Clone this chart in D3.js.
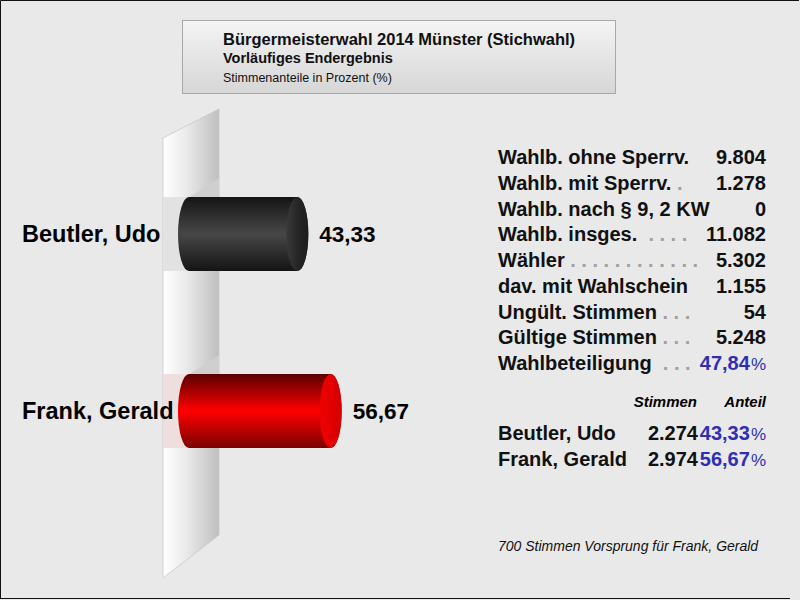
<!DOCTYPE html>
<html>
<head>
<meta charset="utf-8">
<script src="https://cdn.jsdelivr.net/npm/d3@7"></script>
<style>
  body { margin: 0; background: #e9e9e9; }
  text { font-family: "Liberation Sans", Arial, sans-serif; }
</style>
</head>
<body>
<div id="chart"></div>
<script>
// data
const candidates = ["Beutler, Udo", "Frank, Gerald"];
const shares = [43.33, 56.67];
const votes = ["2.274", "2.974"];
const shareLabels = ["43,33", "56,67"];

const statLabels = ["Wahlb. ohne Sperrv.", "Wahlb. mit Sperrv.", "Wahlb. nach § 9, 2 KW", "Wahlb. insges.",
  "Wähler", "dav. mit Wahlschein", "Ungült. Stimmen", "Gültige Stimmen", "Wahlbeteiligung"];
const statDots = ["", " .", "", "  . . . .", " . . . . . . . . . . . .", "", " . . .", " . . .", "  . . ."];
const statValues = ["9.804", "1.278", "0", "11.082", "5.302", "1.155", "54", "5.248", "47,84"];

const titleLines = ["Bürgermeisterwahl 2014 Münster (Stichwahl)", "Vorläufiges Endergebnis", "Stimmenanteile in Prozent (%)"];
const footer = "700 Stimmen Vorsprung für Frank, Gerald";

const width = 800, height = 600;
const blue = "#2f2fb5";

const svg = d3.select("#chart").append("svg")
  .attr("width", width).attr("height", height);

const defs = svg.append("defs");

function linGrad(id, x2, y2, stops) {
  const g = defs.append("linearGradient").attr("id", id)
    .attr("x1", 0).attr("y1", 0).attr("x2", x2).attr("y2", y2);
  stops.forEach(s => g.append("stop").attr("offset", s[0]).attr("stop-color", s[1]));
}
linGrad("titleGrad", 0, 1, [[0, "#f4f4f4"], [1, "#d6d6d6"]]);
linGrad("wallGrad", 1, 0, [[0, "#ffffff"], [0.4, "#ebebeb"], [1, "#bfbfbf"]]);
linGrad("cyl0", 0, 1, [[0, "#151515"], [0.5, "#474747"], [1, "#141414"]]);
linGrad("cyl1", 0, 1, [[0, "#5a0000"], [0.5, "#ff0000"], [1, "#7a0000"]]);
linGrad("cap0", 1, 0, [[0, "#3a3a3a"], [0.5, "#262626"], [1, "#1c1c1c"]]);
linGrad("cap1", 1, 0, [[0, "#f00000"], [0.5, "#e40000"], [1, "#d00000"]]);

svg.append("rect").attr("width", width).attr("height", height).attr("fill", "#e9e9e9");

// title box
svg.append("rect")
  .attr("x", 182.5).attr("y", 20.5).attr("width", 433).attr("height", 73)
  .attr("fill", "url(#titleGrad)").attr("stroke", "#a8a8a8");
const titleSizes = [16.5, 14.5, 12.5];
const titleY = [45, 63, 82];
svg.selectAll("text.title").data(titleLines).enter().append("text")
  .attr("class", "title")
  .attr("x", 223).attr("y", (d, i) => titleY[i])
  .attr("font-size", (d, i) => titleSizes[i])
  .attr("font-weight", (d, i) => i < 2 ? "bold" : "normal")
  .attr("fill", "#111")
  .text(d => d);

// scales
const xScale = d3.scaleLinear().domain([0, 100]).range([189, 439]);
const yScale = d3.scalePoint().domain(candidates).range([234, 411]);
const barH = 74, rx = 11;

// wall
svg.append("path")
  .attr("d", "M163,138 L219,109 L219,535 L163,578 Z")
  .attr("fill", "url(#wallGrad)").attr("stroke", "#c8c8c8").attr("stroke-width", 0.8);

// bands behind bars
const bandColor = ["#e2e2e2", "#efdede"];
candidates.forEach((c, i) => {
  const yc = yScale(c);
  svg.append("path")
    .attr("d", `M190,${yc - barH / 2} L219,${yc - barH / 2 - 19} L219,${yc - barH / 2} Z`)
    .attr("fill", "#cfcfcf");
  svg.append("rect")
    .attr("x", 163).attr("y", yc - barH / 2).attr("width", 56).attr("height", barH)
    .attr("fill", bandColor[i]);
});

// cylinders
const bars = svg.selectAll("g.bar").data(candidates).enter().append("g").attr("class", "bar");
bars.append("path")
  .attr("d", (d, i) => {
    const x0 = xScale(0), x1 = xScale(shares[i]);
    const t = yScale(d) - barH / 2, b = yScale(d) + barH / 2;
    return `M${x0},${t} L${x1},${t} A${rx},${barH / 2} 0 0 1 ${x1},${b} L${x0},${b} A${rx},${barH / 2} 0 0 1 ${x0},${t} Z`;
  })
  .attr("fill", (d, i) => `url(#cyl${i})`);
bars.append("ellipse")
  .attr("cx", (d, i) => xScale(shares[i]))
  .attr("cy", d => yScale(d))
  .attr("rx", rx).attr("ry", barH / 2)
  .attr("fill", (d, i) => `url(#cap${i})`);

// category labels
bars.append("text")
  .attr("x", 22).attr("y", d => yScale(d) + 8)
  .attr("font-size", 23.5).attr("font-weight", "bold").attr("fill", "#000")
  .text(d => d);

// value labels
bars.append("text")
  .attr("x", (d, i) => xScale(shares[i]) + rx + 11)
  .attr("y", d => yScale(d) + 8)
  .attr("font-size", 22.5).attr("font-weight", "bold").attr("fill", "#000")
  .text((d, i) => shareLabels[i]);

// stats panel
const rowY = d3.scaleLinear().domain([0, statLabels.length - 1]).range([164, 370]);
const stats = svg.selectAll("g.stat").data(statLabels).enter().append("g").attr("class", "stat");
const lab = stats.append("text")
  .attr("x", 498).attr("y", (d, i) => rowY(i))
  .attr("font-size", 20).attr("font-weight", "bold").attr("fill", "#111")
  .attr("xml:space", "preserve");
lab.append("tspan").text(d => d);
lab.append("tspan").attr("fill", "#a0a0a0").text((d, i) => statDots[i]);

const val = stats.append("text")
  .attr("x", 766).attr("y", (d, i) => rowY(i))
  .attr("text-anchor", "end")
  .attr("font-size", 20).attr("font-weight", "bold")
  .attr("fill", (d, i) => i === statLabels.length - 1 ? blue : "#111");
val.append("tspan").text((d, i) => statValues[i]);
val.filter((d, i) => i === statLabels.length - 1)
  .append("tspan").attr("font-size", 17).attr("font-weight", "normal").attr("dx", 1).text("%");

// result table
svg.append("text").attr("x", 697).attr("y", 407).attr("text-anchor", "end")
  .attr("font-size", 15).attr("font-weight", "bold").attr("font-style", "italic").text("Stimmen");
svg.append("text").attr("x", 766).attr("y", 407).attr("text-anchor", "end")
  .attr("font-size", 15).attr("font-weight", "bold").attr("font-style", "italic").text("Anteil");

const resY = d3.scalePoint().domain(candidates).range([440, 466]);
const res = svg.selectAll("g.res").data(candidates).enter().append("g").attr("class", "res");
res.append("text").attr("x", 498).attr("y", d => resY(d))
  .attr("font-size", 20).attr("font-weight", "bold").attr("fill", "#111").text(d => d);
res.append("text").attr("x", 698).attr("y", d => resY(d)).attr("text-anchor", "end")
  .attr("font-size", 20).attr("font-weight", "bold").attr("fill", "#111").text((d, i) => votes[i]);
const pct = res.append("text").attr("x", 766).attr("y", d => resY(d)).attr("text-anchor", "end")
  .attr("font-size", 20).attr("font-weight", "bold").attr("fill", blue);
pct.append("tspan").text((d, i) => shareLabels[i]);
pct.append("tspan").attr("font-size", 17).attr("font-weight", "normal").attr("dx", 1).text("%");

// footer
svg.append("text").attr("x", 498).attr("y", 551)
  .attr("font-size", 14).attr("font-style", "italic").attr("fill", "#111").text(footer);

// frame
svg.append("path").attr("d", "M0.5,599 L0.5,0.5 L799,0.5 M0,598.5 L790,598.5")
  .attr("fill", "none").attr("stroke", "#111").attr("stroke-width", 1);
</script>
</body>
</html>
